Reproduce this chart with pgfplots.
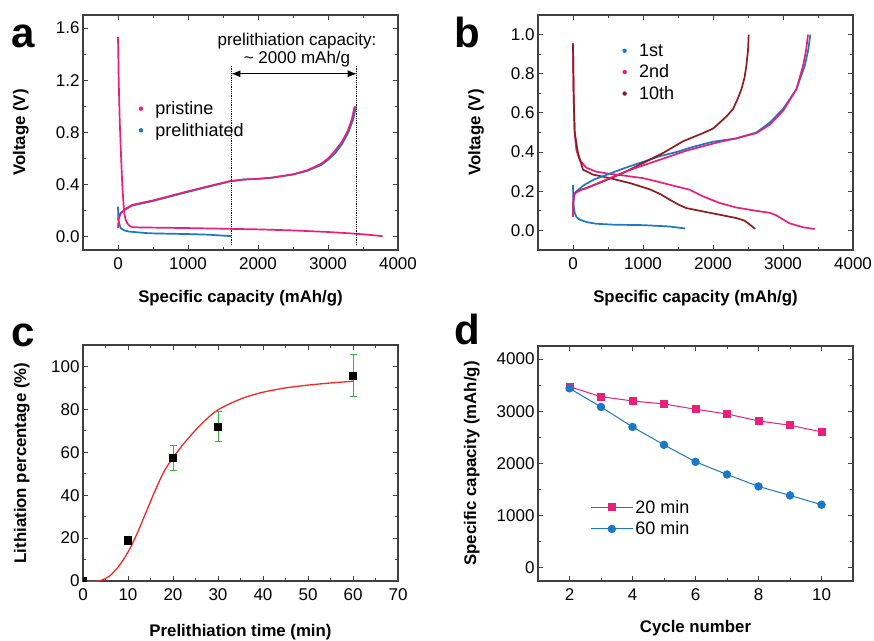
\documentclass[border=0pt]{standalone}
\usepackage{fontspec}
\setmainfont{Liberation Sans}
\usepackage{pgfplots}
\pgfplotsset{compat=1.18}
\usetikzlibrary{arrows.meta}

\definecolor{pinkc}{HTML}{E8207A}
\definecolor{bluec}{HTML}{1A78C4}
\definecolor{darkredc}{HTML}{8C1C1E}
\definecolor{fitred}{HTML}{F02828}
\definecolor{errgreen}{HTML}{3CB043}
\definecolor{axgray}{HTML}{404040}

\pgfplotsset{
  panel/.style={
    scale only axis, width=315pt, height=235pt,
    axis line style={axgray, line width=1.1pt},
    every tick/.style={axgray, line width=0.9pt},
    tick align=inside, major tick length=5pt, minor tick length=3pt,
    ticklabel style={font=\fontsize{17}{19}\selectfont},
    xticklabel style={yshift=-4pt},
    /pgf/number format/assume math mode=true,
    /pgf/number format/1000 sep={},
    label style={font=\fontsize{16.8}{19}\selectfont\bfseries},
    x label style={at={(axis description cs:0.5,-0.204)}, anchor=center},
    y label style={at={(axis description cs:-0.197,0.5)}, anchor=center},
    legend cell align=left,
  },
  dotleg/.style={legend image code/.code={\path[draw=none,fill=none] (0pt,-3pt) rectangle (15pt,3pt); \fill[draw=none] (2.5pt,0pt) circle (2.2pt);}},
  curve/.style={line width=1.7pt, line join=round},
  legbox/.style={draw=none, fill=none, row sep=3pt, font=\fontsize{18}{21}\selectfont},
}

\begin{document}
\begin{tikzpicture}
\useasboundingbox (0,0) rectangle (874pt,640pt);

% ---- a ----
\begin{axis}[panel, at={(83pt,390pt)}, anchor=south west,
  xmin=-500, xmax=4000, ymin=-0.1, ymax=1.7,
  xtick={0,1000,2000,3000,4000}, ytick={0,0.4,0.8,1.2,1.6},
  minor x tick num=1, minor y tick num=1,
  yticklabel style={/pgf/number format/.cd, fixed, fixed zerofill, precision=1},
  xlabel={Specific capacity (mAh/g)}, ylabel={Voltage (V)},
  legend style={legbox, at={(axis description cs:0.166,0.65)}, anchor=north west},
  ]
\addplot[pinkc, curve, dotleg] coordinates {
 (0,1.53) (10,1.2) (24,0.9) (45,0.6) (62,0.39) (78,0.26) (90,0.18) (110,0.13)
 (133,0.105) (165,0.085) (205,0.075) (300,0.073) (700,0.07) (1000,0.068)
 (1600,0.062) (2000,0.058) (2500,0.05) (3000,0.038) (3330,0.027) (3550,0.018) (3780,0.006)};
\addlegendentry{pristine}
\addplot[bluec, curve, dotleg] coordinates {
 (0,0.233) (3,0.17) (10,0.12) (38,0.067) (90,0.05) (157,0.041) (443,0.028)
 (800,0.024) (1000,0.022) (1300,0.017) (1620,0.006)};
\addlegendentry{prelithiated}
\addplot[bluec, curve, forget plot] coordinates {
 (0,0.13) (10,0.16) (40,0.185) (90,0.205) (200,0.24) (500,0.275) (1000,0.345)
 (1300,0.385) (1600,0.425) (1800,0.44) (2000,0.445) (2200,0.453) (2500,0.478)
 (2700,0.505) (2900,0.55) (3000,0.59) (3100,0.64) (3200,0.71) (3290,0.8)
 (3360,0.9) (3400,1.0)};
\addplot[pinkc, curve, forget plot] coordinates {
 (0,0.07) (10,0.14) (40,0.18) (90,0.21) (200,0.245) (500,0.28) (1000,0.35)
 (1300,0.39) (1600,0.428) (1800,0.44) (2000,0.445) (2200,0.455) (2500,0.48)
 (2700,0.51) (2900,0.56) (3000,0.6) (3100,0.66) (3200,0.73) (3280,0.81)
 (3340,0.9) (3380,1.0)};
\addplot[black, densely dotted, line width=0.8pt, forget plot] coordinates {(1620,-0.06) (1620,1.31)};
\addplot[black, densely dotted, line width=0.8pt, forget plot] coordinates {(3410,-0.06) (3410,1.31)};
\addplot[black, line width=0.9pt, {Latex[length=9pt,width=7pt]}-{Latex[length=9pt,width=7pt]}, forget plot]
 coordinates {(1620,1.25) (3410,1.25)};
\node[font=\fontsize{17}{19}\selectfont] at (axis cs:2557,1.5) {prelithiation capacity:};
\node[font=\fontsize{17}{19}\selectfont] at (axis cs:2557,1.36) {\textasciitilde{} 2000 mAh/g};
\end{axis}

% ---- b ----
\begin{axis}[panel, at={(538pt,390pt)}, anchor=south west,
  xmin=-500, xmax=4000, ymin=-0.1, ymax=1.1,
  xtick={0,1000,2000,3000,4000}, ytick={0,0.2,0.4,0.6,0.8,1.0},
  minor x tick num=1, minor y tick num=1,
  yticklabel style={/pgf/number format/.cd, fixed, fixed zerofill, precision=1},
  xlabel={Specific capacity (mAh/g)}, ylabel={Voltage (V)},
  legend style={legbox, at={(axis description cs:0.257,0.895)}, anchor=north west},
  ]
\addplot[bluec, curve, dotleg] coordinates {
 (0,0.233) (3,0.17) (10,0.12) (24,0.09) (50,0.068) (95,0.055) (200,0.042)
 (333,0.034) (600,0.029) (1000,0.027) (1380,0.02) (1600,0.01)};
\addlegendentry{1st}
\addplot[pinkc, curve, dotleg] coordinates {
 (0,0.957) (5,0.8) (10,0.67) (24,0.5) (48,0.41) (95,0.36) (190,0.32) (333,0.3)
 (500,0.29) (667,0.283) (1000,0.267) (1200,0.25) (1381,0.233) (1667,0.208)
 (1857,0.174) (2095,0.14) (2333,0.117) (2619,0.1) (2810,0.09) (2900,0.078)
 (2990,0.058) (3095,0.036) (3286,0.016) (3452,0.007)};
\addlegendentry{2nd}
\addplot[darkredc, curve, dotleg] coordinates {
 (0,0.95) (5,0.8) (10,0.67) (24,0.5) (71,0.395) (143,0.31) (286,0.285)
 (524,0.267) (810,0.242) (1095,0.21) (1250,0.185) (1381,0.157) (1500,0.133)
 (1619,0.114) (1857,0.097) (2095,0.08) (2333,0.063) (2450,0.05) (2500,0.037)
 (2560,0.02) (2600,0.008)};
\addlegendentry{10th}
\addplot[bluec, curve, forget plot] coordinates {
 (0,0.17) (10,0.18) (50,0.2) (150,0.23) (300,0.26) (524,0.29) (750,0.32)
 (1000,0.35) (1250,0.38) (1476,0.4) (1700,0.425) (1857,0.44) (2000,0.453)
 (2333,0.47) (2619,0.5) (2810,0.55) (3000,0.62) (3190,0.72) (3310,0.84)
 (3360,0.92) (3390,1.0)};
\addplot[darkredc, curve, forget plot] coordinates {
 (0,0.07) (5,0.15) (24,0.19) (100,0.205) (190,0.216) (429,0.25) (714,0.293)
 (1000,0.344) (1286,0.395) (1571,0.455) (1857,0.497) (2000,0.52) (2095,0.55)
 (2200,0.585) (2286,0.62) (2350,0.67) (2405,0.72) (2450,0.78) (2476,0.84)
 (2500,0.92) (2510,1.0)};
\addplot[pinkc, curve, forget plot] coordinates {
 (0,0.07) (5,0.15) (24,0.19) (100,0.205) (190,0.216) (350,0.24) (524,0.267)
 (700,0.293) (905,0.32) (1150,0.35) (1381,0.378) (1600,0.405) (1857,0.43)
 (2095,0.452) (2333,0.47) (2619,0.497) (2810,0.54) (3000,0.61) (3190,0.72)
 (3286,0.84) (3330,0.92) (3357,1.0)};
\end{axis}

% ---- c ----
\begin{axis}[panel, at={(83pt,59pt)}, anchor=south west, height=236pt,
  xmin=0, xmax=70, ymin=0, ymax=110,
  xtick={0,10,...,70}, ytick={0,20,...,100},
  minor x tick num=1, minor y tick num=1,
  clip marker paths=true,
  xlabel={Prelithiation time (min)}, ylabel={Lithiation percentage (\%)},
  x label style={at={(axis description cs:0.5,-0.216)}},
  y label style={at={(axis description cs:-0.194,0.5)}},
  ]
\addplot[fitred, line width=1.3pt, smooth] coordinates {
 (0,0) (2,-0.3) (4,0.3) (6,2.5) (8,7) (10,13.5) (12,22) (14,32) (16,42)
 (18,51) (20,57.5) (22,63) (24,68) (26,72.5) (28,76.5) (30,79.8) (33,83)
 (36,85.6) (40,88) (45,90) (50,91.3) (55,92.3) (60,93.1)};
\addplot[black, only marks, mark=square*, mark size=3.6pt,
  error bars/.cd, y dir=both, y explicit,
  error bar style={color=errgreen, line width=0.9pt},
  error mark options={color=errgreen, mark size=3.5pt, line width=0.9pt, rotate=90}]
 coordinates {(0,0) +- (0,0) (10,19) +- (0,1.5) (20,57.5) +- (0,5.8) (30,72) +- (0,7) (60,95.8) +- (0,9.7)};
\end{axis}

% ---- d ----
\begin{axis}[panel, at={(538pt,59pt)}, anchor=south west,
  xmin=1, xmax=11, ymin=-250, ymax=4250,
  xtick={2,4,...,10}, ytick={0,1000,...,4000},
  minor x tick num=1, minor y tick num=1,
  xlabel={Cycle number}, ylabel={Specific capacity (mAh/g)},
  x label style={at={(axis description cs:0.5,-0.2)}},
  y label style={at={(axis description cs:-0.21,0.5)}},
  legend style={legbox, at={(axis description cs:0.156,0.362)}, anchor=north west},
  legend image code/.code={\draw[mark repeat=2,mark phase=2,#1] plot coordinates {(0pt,0pt) (21pt,0pt) (42pt,0pt)};},
  ]
\addplot[pinkc, line width=1pt, mark=square*, mark size=3.5pt] coordinates {
 (2,3471) (3,3280) (4,3197) (5,3140) (6,3038) (7,2949) (8,2815) (9,2732) (10,2605)};
\addlegendentry{20 min}
\addplot[bluec, line width=1pt, mark=*, mark size=3.7pt] coordinates {
 (2,3439) (3,3083) (4,2700) (5,2357) (6,2032) (7,1790) (8,1561) (9,1389) (10,1210)};
\addlegendentry{60 min}
\end{axis}

\node[anchor=base west, font=\fontsize{42}{44}\selectfont\bfseries] at (8pt,592pt) {a};
\node[anchor=base west, font=\fontsize{42}{44}\selectfont\bfseries] at (451pt,592pt) {b};
\node[anchor=base west, font=\fontsize{42}{44}\selectfont\bfseries] at (8pt,293pt) {c};
\node[anchor=base west, font=\fontsize{42}{44}\selectfont\bfseries] at (451pt,295pt) {d};
\end{tikzpicture}
\end{document}
